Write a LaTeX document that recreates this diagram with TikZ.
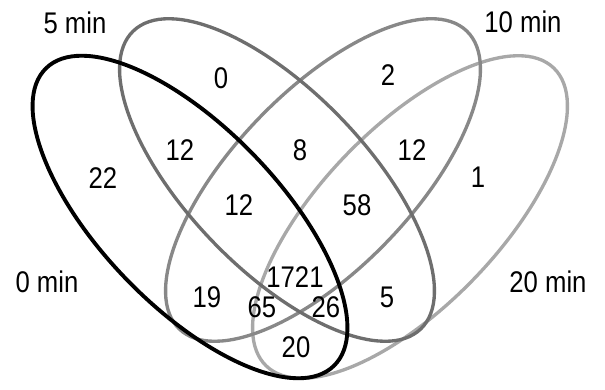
\documentclass[tikz,border=0pt]{standalone}
\usepackage{fontspec}
\setmainfont[FakeStretch=0.86]{Liberation Sans}
\usepackage{tikz}

\definecolor{setb}{RGB}{110,110,110}
\definecolor{setc}{RGB}{136,136,136}
\definecolor{setd}{RGB}{168,168,168}

\begin{document}
\begin{tikzpicture}[x=0.02cm, y=0.02cm,
    venn/.style={line width=1.9pt},
    num/.style={font=\fontsize{17}{20}\selectfont, inner sep=0pt}]
    \useasboundingbox (0,0) rectangle (605,389);

    % Sets (back to front)
    \draw[venn, setd, rotate around={46:(410,172)}] (410,172) ellipse [x radius=207, y radius=89];
    \draw[venn, setc, rotate around={46:(323,209)}] (323,209) ellipse [x radius=207, y radius=89];
    \draw[venn, setb, rotate around={-46:(277,209)}] (277,209) ellipse [x radius=207, y radius=89];
    \draw[venn, black, line width=2.2pt, rotate around={-46:(190,172)}] (190,172) ellipse [x radius=207, y radius=89];

    % Set names
    \node[num] (t5) at (75, 366) {5 min};
    \node[num] (t10) at (523, 367) {10 min};
    \node[num] (t0) at (47, 107) {0 min};
    \node[num] (t20) at (548, 107) {20 min};

    % Counts
    \node[num] (nb) at (221, 311) {0};
    \node[num] (nc) at (388, 314) {2};
    \node[num] (nab) at (180, 239) {12};
    \node[num] (nbc) at (300, 239) {8};
    \node[num] (ncd) at (412, 239) {12};
    \node[num] (na) at (103, 211) {22};
    \node[num] (nd) at (478, 212) {1};
    \node[num] (nabc) at (239, 184) {12};
    \node[num] (nbcd) at (357, 184) {58};
    \node[num] (nac) at (207, 92) {19};
    \node[num] (nall) at (295, 112) {1721};
    \node[num] (nacd) at (262, 82) {65};
    \node[num] (nabd) at (326, 82) {26};
    \node[num] (nbd) at (387, 92) {5};
    \node[num] (nad) at (296, 42) {20};
\end{tikzpicture}
\end{document}
